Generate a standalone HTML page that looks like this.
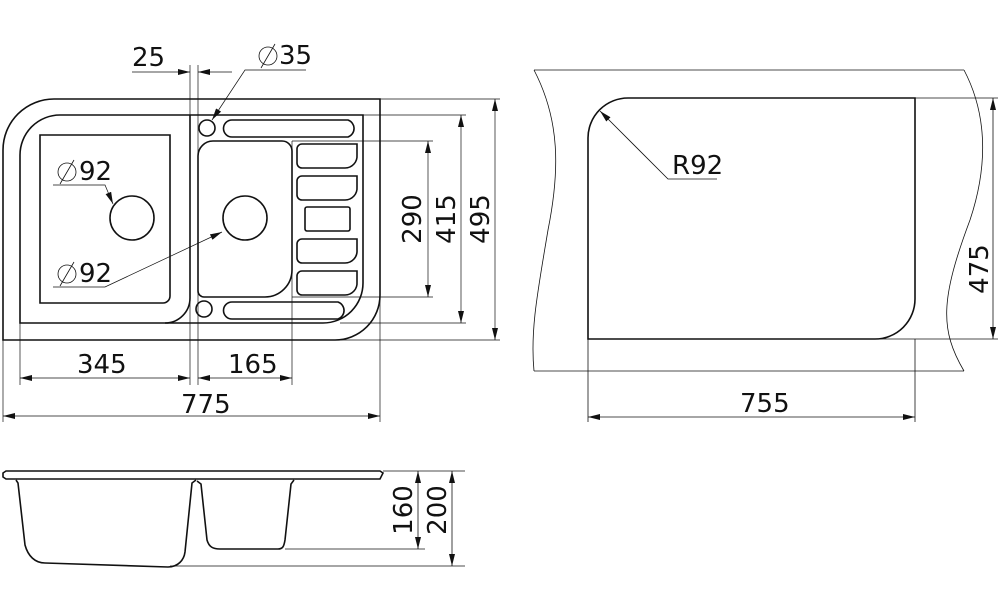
<!DOCTYPE html>
<html><head><meta charset="utf-8"><style>
html,body{margin:0;padding:0;background:#fff;width:1000px;height:600px;overflow:hidden}
svg{display:block}
text{font-family:"DejaVu Sans","Liberation Sans",sans-serif;font-size:26px;fill:#111}
</style></head><body>
<svg width="1000" height="600" viewBox="0 0 1000 600" xmlns="http://www.w3.org/2000/svg">
<defs>
<marker id="a" viewBox="0 0 12 6" refX="12" refY="3" markerWidth="12" markerHeight="6" orient="auto-start-reverse" markerUnits="userSpaceOnUse"><path d="M0,0L12,3L0,6z" fill="#111"/></marker>
</defs>
<g fill="none" stroke="#111" stroke-width="0.7">
<line x1="190" y1="65" x2="190" y2="385"/>
<line x1="198" y1="65" x2="198" y2="385"/>
<line x1="20" y1="300" x2="20" y2="385"/>
<line x1="3" y1="330" x2="3" y2="422"/>
<line x1="380" y1="99" x2="380" y2="422"/>
<line x1="292" y1="141" x2="292" y2="385"/>
<line x1="380" y1="99" x2="500" y2="99"/>
<line x1="363" y1="115" x2="466" y2="115"/>
<line x1="292" y1="141" x2="433" y2="141"/>
<line x1="292" y1="297" x2="433" y2="297"/>
<line x1="340" y1="323" x2="466" y2="323"/>
<line x1="340" y1="340" x2="500" y2="340"/>
<line x1="20" y1="378" x2="190" y2="378" marker-start="url(#a)" marker-end="url(#a)"/>
<line x1="198" y1="378" x2="292" y2="378" marker-start="url(#a)" marker-end="url(#a)"/>
<line x1="3" y1="416" x2="380" y2="416" marker-start="url(#a)" marker-end="url(#a)"/>
<line x1="428" y1="141" x2="428" y2="297" marker-start="url(#a)" marker-end="url(#a)"/>
<line x1="461" y1="115" x2="461" y2="323" marker-start="url(#a)" marker-end="url(#a)"/>
<line x1="495" y1="99" x2="495" y2="340" marker-start="url(#a)" marker-end="url(#a)"/>
<line x1="132" y1="72" x2="190" y2="72" marker-end="url(#a)"/>
<line x1="232" y1="72" x2="198" y2="72" marker-end="url(#a)"/>
<polyline points="306,70 245,70 212,120" marker-end="url(#a)"/>
<polyline points="53,185 105,185 113,204" marker-end="url(#a)"/>
<polyline points="53,287 105,287 222,232" marker-end="url(#a)"/>
</g>
<g fill="none" stroke="#111" stroke-width="1.6">
<path d="M3,340 L3,150 A51,51 0 0 1 54,99 L380,99 L380,295 A45,45 0 0 1 335,340 Z"/>
<path d="M20,323 L20,155 A40,40 0 0 1 60,115 L363,115 L363,283 A40,40 0 0 1 323,323 Z"/>
<path d="M190,115 L190,298 A25,25 0 0 1 165,323"/>
<path d="M40,135 L170,135 L170,296 A7,7 0 0 1 163,303 L40,303 Z"/>
<path d="M213,141 L282,141 A10,10 0 0 1 292,151 L292,270 A27,27 0 0 1 265,297 L204,297 A6,6 0 0 1 198,291 L198,156 A15,15 0 0 1 213,141 Z"/>
<circle cx="132" cy="218" r="22"/>
<circle cx="245" cy="218" r="22"/>
<circle cx="207" cy="128" r="8"/>
<circle cx="204" cy="309" r="8"/>
<path d="M232,120 L348,120 A9,9 0 0 1 348,137 L232,137 A8,8 0 0 1 232,120 Z"/>
<path d="M232,302 L338,302 A9,9 0 0 1 338,319 L232,319 A8,8 0 0 1 232,302 Z"/>
<path d="M302,144 L357,144 L357,155 A12,12 0 0 1 345,168 L302,168 A5,5 0 0 1 297,163 L297,149 A5,5 0 0 1 302,144 Z"/>
<path d="M302,176 L357,176 L357,187 A12,12 0 0 1 345,200 L302,200 A5,5 0 0 1 297,195 L297,181 A5,5 0 0 1 302,176 Z"/>
<rect x="305" y="207" width="45" height="24" rx="2"/>
<path d="M302,239 L357,239 L357,250 A12,12 0 0 1 345,263 L302,263 A5,5 0 0 1 297,258 L297,244 A5,5 0 0 1 302,239 Z"/>
<path d="M302,271 L357,271 L357,282 A12,12 0 0 1 345,295 L302,295 A5,5 0 0 1 297,290 L297,276 A5,5 0 0 1 302,271 Z"/>
</g>
<g fill="none" stroke="#111" stroke-width="0.8">
<line x1="534" y1="70" x2="964" y2="70"/>
<line x1="534" y1="371" x2="964" y2="371"/>
<path d="M534,70 C560,120 560,170 548,230 C538,290 530,330 534,371"/>
<path d="M964,70 C985,110 990,160 970,220 C940,300 940,330 964,371"/>
<line x1="915" y1="98" x2="998" y2="98"/>
<line x1="875" y1="339" x2="998" y2="339"/>
<line x1="588" y1="339" x2="588" y2="422"/>
<line x1="915" y1="339" x2="915" y2="422"/>
<line x1="993" y1="98" x2="993" y2="339" marker-start="url(#a)" marker-end="url(#a)"/>
<line x1="588" y1="417" x2="915" y2="417" marker-start="url(#a)" marker-end="url(#a)"/>
<polyline points="717,179 668,179 600,111" marker-end="url(#a)"/>
</g>
<path d="M588,339 L588,138 A40,40 0 0 1 628,98 L915,98 L915,299 A40,40 0 0 1 875,339 Z" fill="none" stroke="#111" stroke-width="1.6"/>
<g fill="none" stroke="#111" stroke-width="0.8">
<line x1="383" y1="471" x2="465" y2="471"/>
<line x1="285" y1="549" x2="425" y2="549"/>
<line x1="170" y1="566" x2="465" y2="566"/>
<line x1="418" y1="471" x2="418" y2="549" marker-start="url(#a)" marker-end="url(#a)"/>
<line x1="452" y1="471" x2="452" y2="566" marker-start="url(#a)" marker-end="url(#a)"/>
</g>
<g fill="none" stroke="#111" stroke-width="1.6">
<path d="M6,471 L380,471 L383,473 L380,479 L6,479 L3,477 L3,473 Z"/>
<path d="M16,480 L18,483 L25,545 C28,556 35,563 45,563 L168,567 C178,567 184,560 185,552 L192,483 L196,480"/>
<path d="M197,481 L201,484 L207,540 C209,547 213,549 220,549 L278,549 C283,549 284,546 285,540 L291,484 L294,480"/>
</g>
<text x="132" y="66">25</text>
<text x="279" y="64">35</text>
<text x="79" y="180">92</text>
<text x="79" y="282">92</text>
<text x="77" y="373">345</text>
<text x="228" y="373">165</text>
<text x="181" y="413">775</text>
<text x="672" y="174">R92</text>
<text x="740" y="412">755</text>
<g fill="none" stroke="#111" stroke-width="0.8">
<circle cx="268" cy="56" r="9"/><line x1="261" y1="68" x2="275" y2="44"/>
<circle cx="67" cy="172" r="9"/><line x1="60" y1="184" x2="74" y2="160"/>
<circle cx="67" cy="274" r="9"/><line x1="60" y1="286" x2="74" y2="262"/>
</g>
<text transform="translate(421,219) rotate(-90)" text-anchor="middle">290</text>
<text transform="translate(455,219) rotate(-90)" text-anchor="middle">415</text>
<text transform="translate(489,219) rotate(-90)" text-anchor="middle">495</text>
<text transform="translate(988,269) rotate(-90)" text-anchor="middle">475</text>
<text transform="translate(412,510) rotate(-90)" text-anchor="middle">160</text>
<text transform="translate(446,510) rotate(-90)" text-anchor="middle">200</text>
</svg>
</body></html>
